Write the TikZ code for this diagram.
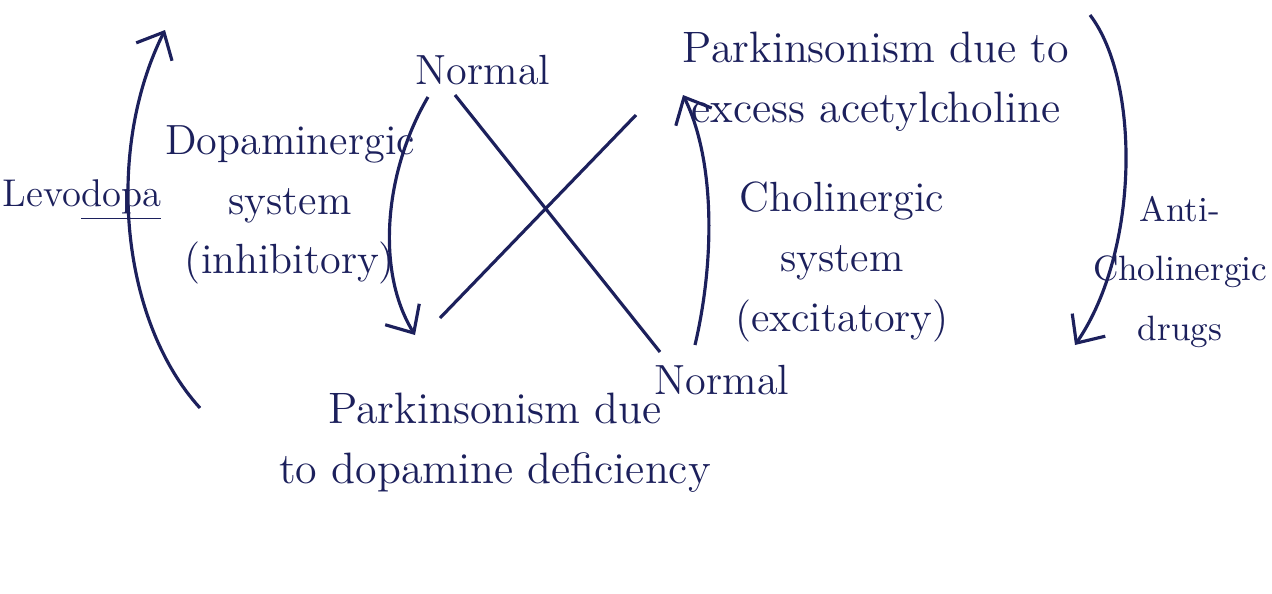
\documentclass[tikz,border=0pt]{standalone}
\usetikzlibrary{arrows.meta}
\definecolor{ink}{RGB}{28,32,92}
\begin{document}
\begin{tikzpicture}[x=0.01cm, y=-0.01cm, ink, line width=0.9pt,
	every node/.style={font=\fontsize{12}{17}\selectfont, align=center},
	small/.style={font=\fontsize{10}{17}\selectfont},
	arr/.style={-{Straight Barb[length=2.2mm,width=4mm]}}]
\useasboundingbox (0,0) rectangle (1272,593);

% labels
\node[font=\fontsize{11}{17}\selectfont] (levo) at (82,200) {Levo\underline{dopa}};
\node (dopsys) at (290,205) {Dopaminergic\\system\\(inhibitory)};
\node (ntop) at (483,70) {Normal};
\node[font=\fontsize{12.5}{17}\selectfont] (ach) at (876,82) {Parkinsonism due to\\excess acetylcholine};
\node (cholsys) at (842,262) {Cholinergic\\system\\(excitatory)};
\node (nbot) at (722,380) {Normal};
\node[font=\fontsize{12.5}{17}\selectfont] (dopdef) at (495,443) {Parkinsonism due\\to dopamine deficiency};
\node[small] (anti) at (1180,272) {Anti-\\Cholinergic\\drugs};

% ends of the curves
\coordinate (levo-s) at (200,408);
\coordinate (levo-e) at (165,30);
\coordinate (dop-s) at (428,97);
\coordinate (dop-e) at (415,335);
\coordinate (chol-s) at (695,345);
\coordinate (chol-e) at (683,95);
\coordinate (anti-s) at (1090,15);
\coordinate (anti-e) at (1075,345);
\coordinate (x1-s) at (455,95);
\coordinate (x1-e) at (660,352);
\coordinate (x2-s) at (440,318);
\coordinate (x2-e) at (636,115);

\draw[arr] (levo-s) .. controls (120,320) and (105,150) .. (levo-e);
\draw[arr] (dop-s) .. controls (385,170) and (375,270) .. (dop-e);
\draw[arr] (chol-s) .. controls (715,260) and (715,160) .. (chol-e);
\draw[arr] (anti-s) .. controls (1140,80) and (1140,250) .. (anti-e);
\draw (x1-s) -- (x1-e);
\draw (x2-s) -- (x2-e);

\end{tikzpicture}
\end{document}
